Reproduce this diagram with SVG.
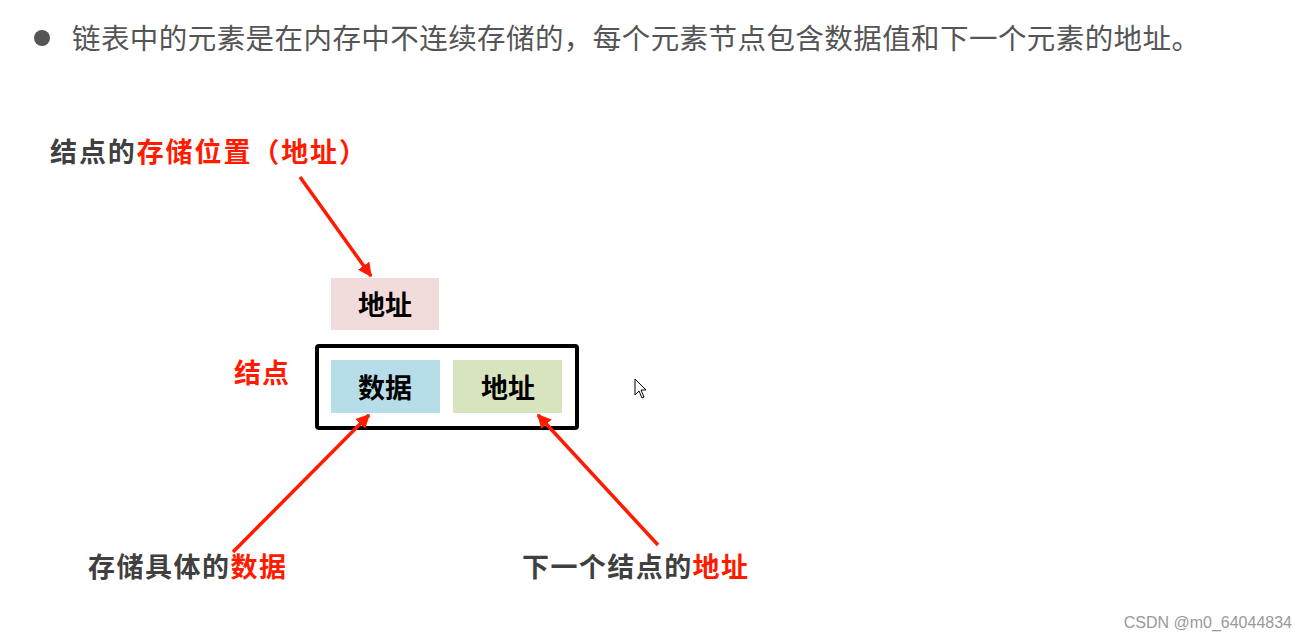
<svg xmlns="http://www.w3.org/2000/svg" width="1307" height="641" viewBox="0 0 1307 641">
<defs>
<style>
.cjk{font-family:"Noto Sans CJK SC","Liberation Sans",sans-serif}
.b{font-weight:bold;font-size:27px}
.dark{fill:#404040}
.red{fill:#ff1a00}
.lbl{font-family:"Noto Sans CJK SC",sans-serif;font-weight:bold;font-size:27px;fill:#000;text-anchor:middle;dominant-baseline:central}
.arr{stroke:#ff1a00;stroke-width:3.5;fill:none;marker-end:url(#ah)}
</style>
<marker id="ah" viewBox="0 0 10 10" refX="9" refY="5" markerWidth="4" markerHeight="4" orient="auto" markerUnits="strokeWidth">
<path d="M0,0 L10,5 L0,10 z" fill="#ff1a00"/>
</marker>
</defs>
<rect width="1307" height="641" fill="#fff"/>
<g id="header">
<circle cx="42" cy="38" r="8" fill="#555"/>
<text x="72" y="49" class="cjk" font-size="28.5" fill="#555" textLength="1128" lengthAdjust="spacing">链表中的元素是在内存中不连续存储的，每个元素节点包含数据值和下一个元素的地址。</text>
</g>
<g id="label-position">
<text x="50" y="162" class="cjk b" textLength="316" lengthAdjust="spacing"><tspan class="dark">结点的</tspan><tspan class="red">存储位置（地址）</tspan></text>
</g>
<g id="node-address-top">
<rect x="331" y="278" width="108" height="52" fill="#f2dcdb"/>
<text x="385" y="303" class="lbl">地址</text>
</g>
<g id="label-node">
<text x="234" y="383" class="cjk b red" textLength="55" lengthAdjust="spacing">结点</text>
</g>
<g id="node">
<rect x="317" y="346" width="260" height="82" rx="2" fill="#fff" stroke="#000" stroke-width="4"/>
<g id="node-data">
<rect x="331" y="360" width="109" height="53" fill="#b7dde8"/>
<text x="385" y="386" class="lbl">数据</text>
</g>
<g id="node-next">
<rect x="453" y="360" width="109" height="53" fill="#d7e4bd"/>
<text x="508" y="386" class="lbl">地址</text>
</g>
</g>
<g id="label-data">
<text x="88" y="577" class="cjk b" textLength="198" lengthAdjust="spacing"><tspan class="dark">存储具体的</tspan><tspan class="red">数据</tspan></text>
</g>
<g id="label-next">
<text x="522" y="577" class="cjk b" textLength="226" lengthAdjust="spacing"><tspan class="dark">下一个结点的</tspan><tspan class="red">地址</tspan></text>
</g>
<g id="connectors">
<line x1="300" y1="177" x2="371" y2="276" class="arr"/>
<line x1="233" y1="552" x2="369" y2="415" class="arr"/>
<line x1="658" y1="545" x2="538" y2="415" class="arr"/>
</g>
<g id="cursor">
<path d="M635,379 L635,395 L639,391 L642,398 L644,397 L641,390 L646,390 Z" fill="#fff" stroke="#000" stroke-width="1"/>
</g>
<text x="1292" y="628" text-anchor="end" font-family="Liberation Sans,sans-serif" font-size="16" fill="#999">CSDN @m0_64044834</text>
</svg>
